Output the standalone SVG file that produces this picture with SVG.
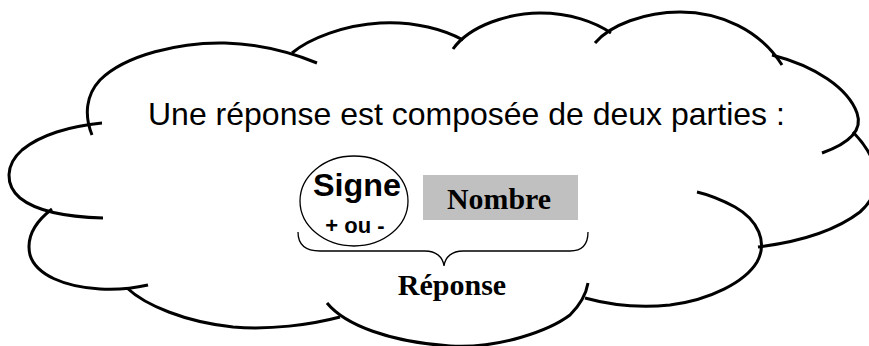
<svg xmlns="http://www.w3.org/2000/svg" width="869" height="346" viewBox="0 0 869 346">
<style>
.cloud{fill:none;stroke:#000;stroke-width:3;stroke-linecap:butt}
.thin{fill:none;stroke:#000;stroke-width:1.3}
.sans{font-family:"Liberation Sans",Arial,sans-serif;fill:#000}
.serif{font-family:"Liberation Serif","Times New Roman",serif;font-weight:bold;fill:#000}
</style>
<rect width="869" height="346" fill="#fff"/>
<g id="cloud">
<path class="cloud" d="M92,135 C84,115 86,95 100,80 C125,55 180,42 225,43 C260,44 290,52 317,63"/>
<path class="cloud" d="M102,123 C70,126 40,135 22,150 C5,165 5,185 20,198 C35,210 65,217 103,218"/>
<path class="cloud" d="M52,209 C35,222 26,238 30,255 C36,275 65,287 100,289 C120,290 135,288 148,285"/>
<path class="cloud" d="M127,288 C145,305 185,322 233,327 C270,330 310,325 340,317"/>
<path class="cloud" d="M327,303 C345,325 390,342 450,346 C500,349 550,330 570,315 C580,305 586,295 588,283"/>
<path class="cloud" d="M585,298 C610,305 640,308 670,305 C710,300 745,282 757,262 C768,242 758,220 735,207 C722,200 710,195 697,192"/>
<path class="cloud" d="M758,247 C790,243 830,235 860,212 C885,190 880,160 853,132"/>
<path class="cloud" d="M772,55 C815,66 848,88 857,113 C863,130 850,143 822,153"/>
<path class="cloud" d="M595,43 C610,25 645,12 680,12 C720,12 760,30 782,65"/>
<path class="cloud" d="M453,49 C470,25 510,13 540,13 C570,13 595,22 611,33"/>
<path class="cloud" d="M292,53 C310,38 345,25 380,23 C415,21 445,30 463,40"/>
</g>
<g id="title">
<text class="sans" x="148" y="125" font-size="32">Une réponse est composée de deux parties :</text>
</g>
<g id="signe">
<ellipse class="thin" cx="354" cy="201" rx="54" ry="45"/>
<text class="sans" x="313" y="196" font-size="31" font-weight="bold" textLength="88" lengthAdjust="spacingAndGlyphs">Signe</text>
<text class="sans" x="355" y="233" font-size="22" font-weight="bold" text-anchor="middle">+ ou -</text>
</g>
<g id="nombre">
<rect x="423" y="175" width="155" height="45" fill="#c0c0c0"/>
<text class="serif" x="447" y="209" font-size="30" textLength="104" lengthAdjust="spacingAndGlyphs">Nombre</text>
</g>
<g id="connectors">
<path class="thin" d="M298,232 C298,245 305,251 320,251 L425,251 C436,251 443,257 444,266 C445,257 452,251 463,251 L570,251 C582,251 588,245 588,232"/>
</g>
<g id="reponse">
<text class="serif" x="452" y="295" font-size="30" text-anchor="middle">Réponse</text>
</g>
</svg>
